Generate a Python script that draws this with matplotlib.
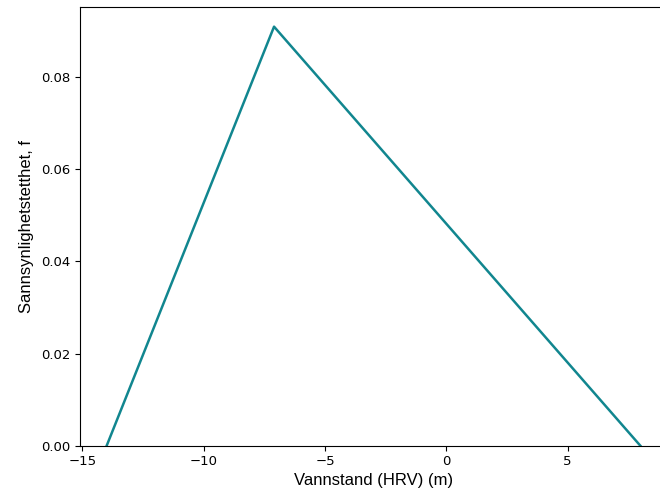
import matplotlib
matplotlib.use("Agg")
import matplotlib.pyplot as plt

x_vals = [-14.0, -7.1, 8.0]
f_vals = [0.0, 0.0909, 0.0]

fig = plt.figure(figsize=(6.6, 4.95), dpi=100)
ax = fig.add_axes([80/660, 1-445.7/495, (667-80)/660, (445.7-7.3)/495])
ax.plot(x_vals, f_vals, color='#11868f', linewidth=1.8)
ax.set_xlim(-15.1, 9.1)
ax.set_ylim(0, 0.0951)
ax.set_xticks([-15, -10, -5, 0, 5])
ax.set_yticks([0.0, 0.02, 0.04, 0.06, 0.08])
ax.set_yticklabels(['0.00', '0.02', '0.04', '0.06', '0.08'])
ax.set_xlabel('Vannstand (HRV) (m)', fontfamily='Liberation Sans', fontsize=12, labelpad=3)
ax.set_ylabel('Sannsynlighetstetthet, f', fontfamily='Liberation Sans', fontsize=12, labelpad=5)
ax.tick_params(labelsize=9.5)
fig.savefig('out.png', dpi=100)
